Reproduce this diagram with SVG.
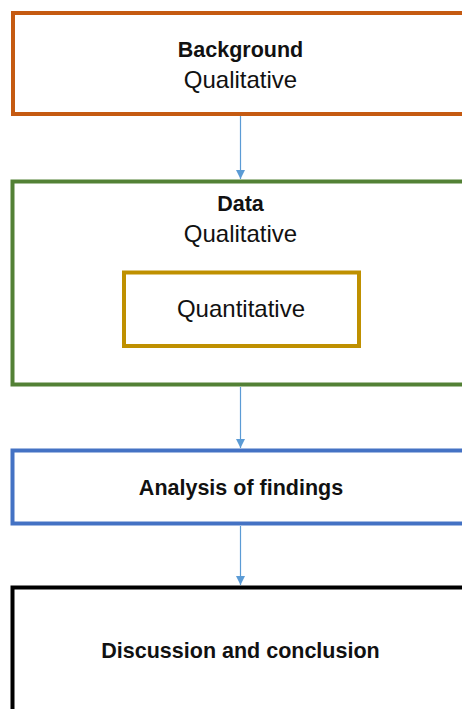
<svg xmlns="http://www.w3.org/2000/svg" width="462" height="709" viewBox="0 0 462 709">
  <style>
    .box { fill: #ffffff; stroke-width: 4; }
    .t { font-family: "Liberation Sans", Arial, sans-serif; font-size: 24px; fill: #111111; text-anchor: middle; }
    .b { font-weight: bold; font-size: 21.5px; }
    .conn { stroke: #5B9BD5; stroke-width: 1.2; fill: none; marker-end: url(#arrow); }
  </style>
  <defs>
    <marker id="arrow" viewBox="0 0 10 10" refX="10" refY="5" markerWidth="10" markerHeight="9" markerUnits="userSpaceOnUse" orient="auto">
      <path d="M0,0 L10,5 L0,10 Z" fill="#5B9BD5"/>
    </marker>
  </defs>
  <rect width="462" height="709" fill="#ffffff"/>

  <g id="connectors">
    <line class="conn" x1="240.5" y1="116" x2="240.5" y2="179"/>
    <line class="conn" x1="240.5" y1="387" x2="240.5" y2="448"/>
    <line class="conn" x1="240.5" y1="526" x2="240.5" y2="585"/>
  </g>

  <g id="background">
    <rect class="box" x="13" y="13" width="480" height="101" stroke="#C55A11"/>
    <text class="t b" x="240.5" y="57">Background</text>
    <text class="t" x="240.5" y="87.5">Qualitative</text>
  </g>

  <g id="data">
    <rect class="box" x="12.5" y="181.5" width="480" height="203" stroke="#538135"/>
    <text class="t b" x="240.5" y="210.5">Data</text>
    <text class="t" x="240.5" y="241.5">Qualitative</text>
  </g>

  <g id="quantitative">
    <rect class="box" x="124" y="272.5" width="235" height="73.5" stroke="#BF9000"/>
    <text class="t" x="241" y="316.5">Quantitative</text>
  </g>

  <g id="analysis">
    <rect class="box" x="12.5" y="450.5" width="480" height="73" stroke="#4472C4"/>
    <text class="t b" x="241" y="495">Analysis of findings</text>
  </g>

  <g id="discussion">
    <rect class="box" x="12.5" y="587.5" width="480" height="140" stroke="#000000"/>
    <text class="t b" x="240.5" y="658">Discussion and conclusion</text>
  </g>
</svg>
